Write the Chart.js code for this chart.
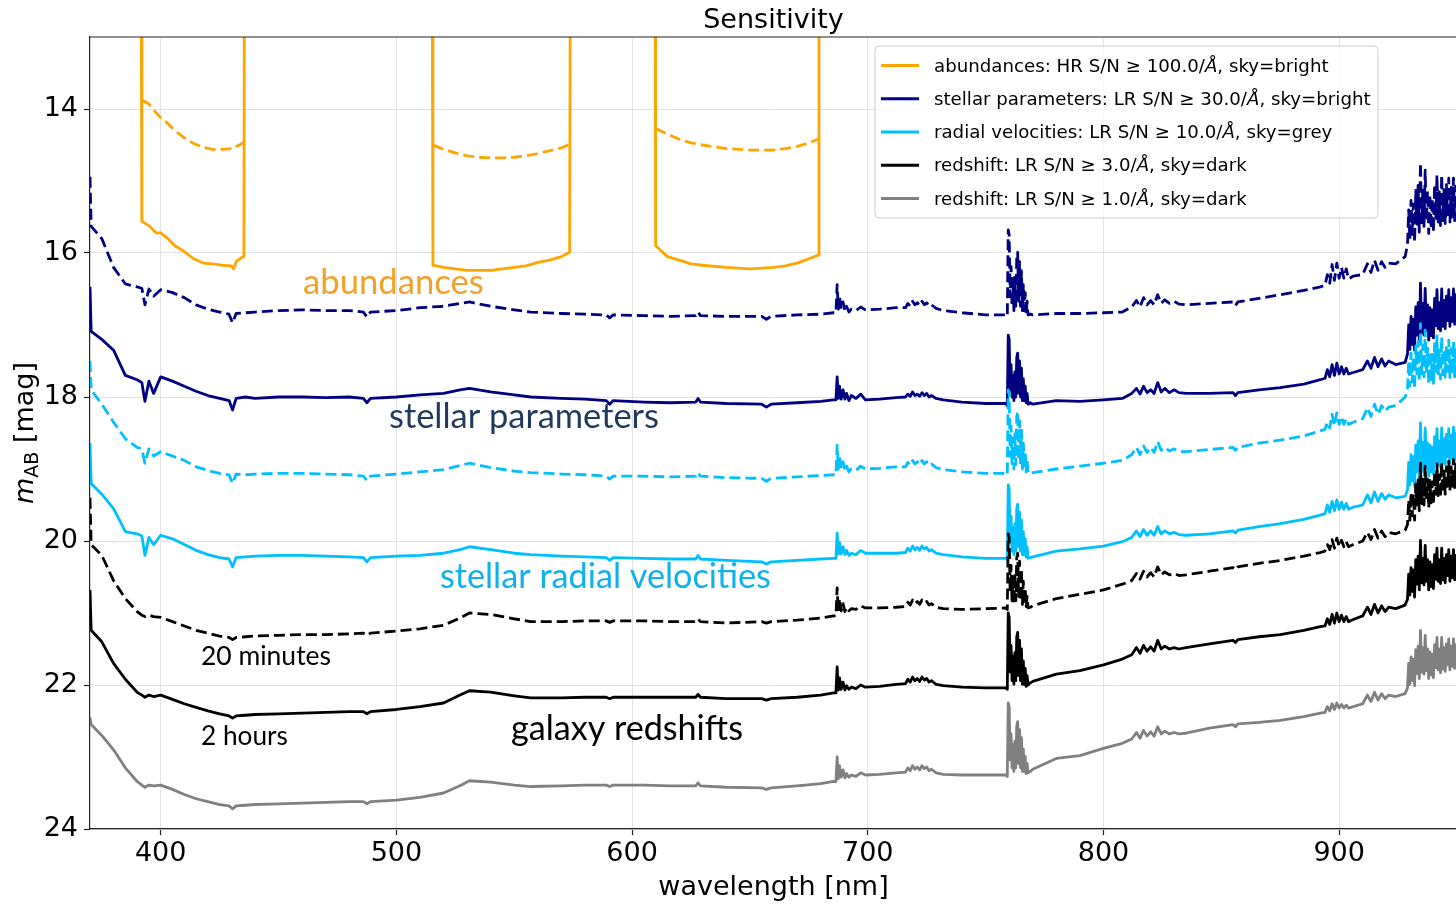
<!DOCTYPE html>
<html>
<head>
<meta charset="utf-8">
<title>Sensitivity</title>
<script src="https://cdn.jsdelivr.net/npm/chart.js@4.4.0/dist/chart.umd.min.js"></script>
<style>
  html, body { margin: 0; padding: 0; background: #fff; overflow: hidden; }
  #wrap { width: 1456px; height: 906px; overflow: hidden; }
</style>
</head>
<body>
<div id="wrap"><canvas id="sensChart" width="1460" height="906"></canvas></div>
<script>
// wavelength grid [nm] shared by the low-resolution curves
const wavelength = [
  370, 370.5, 375, 380, 385, 390, 392, 393.3, 395, 397, 400, 405, 410, 415, 420, 425, 429, 430.5, 432, 436, 440,
  450, 460, 470, 480, 486, 487.5, 489, 500, 510, 520, 527, 531, 540, 550, 557, 570, 580, 589, 590.5, 592,
  605, 616, 627, 628, 629, 640, 655, 657, 659, 670, 680, 685.5,
  686.5, 687, 687.5, 688, 688.7, 689.5, 690.3, 691, 692, 693, 695, 697, 699,
  705, 712, 716, 717, 718, 719, 720, 721, 722, 723, 724, 725, 726, 727, 729, 732, 740, 750, 758.5,
  759.2, 759.6, 760, 760.4, 760.8, 761.2, 761.6, 762, 762.4, 762.8, 763.2, 763.6, 764, 764.4, 764.8, 765.2, 765.6, 766, 766.4, 766.8,
  767.2, 767.6, 768, 769, 770,
  780, 790, 800, 808, 812, 814, 815.5, 817, 818.5, 820, 821.5, 823, 824.5, 826, 828, 830, 832, 835, 845, 855,
  856, 857, 866, 875, 885, 892,
  894, 895, 896, 897, 898, 899, 900, 901, 902, 903, 904, 906,
  910, 912, 913.5, 915, 916.5, 918, 919.5, 921, 924, 928,
  929, 929.5, 930, 930.5, 931, 931.5, 932, 932.5, 933, 933.5, 934, 934.5, 935, 935.5, 936, 936.5, 937, 937.5, 938, 938.5,
  939, 939.5, 940, 940.5, 941, 941.5, 942, 942.5, 943, 943.5, 944, 944.5, 945, 945.5, 946, 946.5, 947, 947.5, 948, 948.5,
  949, 949.5, 950
];

// stellar parameters, LR S/N 30, bright sky: 20 min (dashed) and 2 h (solid)
const spDash = [
  14.94, 15.63, 15.8, 16.2, 16.43, 16.47, 16.49, 16.72, 16.5, 16.6, 16.51, 16.55, 16.62, 16.72, 16.78, 16.82, 16.85, 16.97, 16.84, 16.83, 16.82,
  16.8, 16.79, 16.8, 16.8, 16.82, 16.89, 16.82, 16.8, 16.76, 16.74, 16.7, 16.68, 16.74, 16.79, 16.82, 16.84, 16.85, 16.86, 16.9, 16.86,
  16.87, 16.88, 16.87, 16.82, 16.87, 16.88, 16.88, 16.92, 16.88, 16.86, 16.85, 16.83,
  16.83, 16.44, 16.78, 16.6, 16.78, 16.68, 16.8, 16.74, 16.82, 16.78, 16.8, 16.75, 16.79,
  16.78, 16.76, 16.76, 16.7, 16.74, 16.67, 16.72, 16.69, 16.73, 16.67, 16.72, 16.69, 16.74, 16.72, 16.77, 16.8, 16.83, 16.86, 16.86,
  16.88, 15.68, 15.75, 16.61, 16.19, 16.74, 16.36, 16.8, 16.31, 16.74, 16.06, 15.99, 16.67, 16.12, 16.74, 16.25, 16.8, 16.44, 16.8, 16.55,
  16.84, 16.67, 16.86, 16.85, 16.86,
  16.84, 16.84, 16.83, 16.82, 16.75, 16.66, 16.75, 16.62, 16.72, 16.66, 16.72, 16.58, 16.7, 16.65, 16.7, 16.67, 16.71, 16.72, 16.7, 16.68,
  16.73, 16.68, 16.63, 16.58, 16.52, 16.47,
  16.45, 16.3, 16.42, 16.16, 16.38, 16.14, 16.35, 16.2, 16.35, 16.22, 16.36, 16.32,
  16.3, 16.15, 16.27, 16.1, 16.24, 16.12, 16.2, 16.14, 16.15, 16.05,
  15.88, 15.4, 15.81, 15.27, 15.74, 15.32, 15.85, 15.13, 15.6, 15.06, 15.71, 14.75, 15.58, 15.1, 15.63, 14.85, 15.56, 15.14, 15.73, 15.19,
  15.66, 15.24, 15.71, 15.05, 15.52, 14.92, 15.57, 15.15, 15.62, 14.92, 15.55, 15.12, 15.59, 15.05, 15.47, 14.96, 15.57, 15.09, 15.5, 14.96,
  15.55, 15.07, 15.42
];
const spSolid = [
  16.47, 17.09, 17.2, 17.35, 17.7, 17.76, 17.8, 18.06, 17.78, 17.95, 17.72, 17.78, 17.85, 17.92, 17.98, 18.02, 18.05, 18.18, 18.02, 18.0, 18.02,
  18.0, 18.0, 18.01, 18.0, 18.02, 18.08, 18.02, 18.0, 17.97, 17.95, 17.9, 17.88, 17.93, 17.97, 18.0, 18.02, 18.03, 18.05, 18.1, 18.05,
  18.07, 18.08, 18.07, 18.02, 18.07, 18.09, 18.1, 18.14, 18.1, 18.08, 18.06, 18.04,
  18.04, 17.72, 18.02, 17.85, 18.03, 17.9, 18.03, 17.95, 18.05, 17.98, 18.02, 17.96, 18.04,
  18.03, 18.01, 18.0, 17.96, 17.99, 17.93, 17.98, 17.96, 17.99, 17.94, 17.98, 17.95, 18.0, 17.98, 18.02, 18.04, 18.07, 18.09, 18.09,
  18.12, 17.14, 17.2, 17.9, 17.55, 18.0, 17.7, 18.05, 17.65, 18.0, 17.45, 17.39, 17.95, 17.5, 18.0, 17.6, 18.05, 17.75, 18.05, 17.85,
  18.08, 17.95, 18.1, 18.08, 18.1,
  18.05, 18.06, 18.04, 18.02, 17.95, 17.88, 17.96, 17.85, 17.94, 17.9, 17.95, 17.8, 17.93, 17.88, 17.94, 17.9, 17.94, 17.95, 17.95, 17.94,
  17.98, 17.94, 17.9, 17.87, 17.82, 17.76,
  17.74, 17.62, 17.72, 17.55, 17.7, 17.53, 17.68, 17.58, 17.68, 17.6, 17.68, 17.66,
  17.62, 17.5, 17.6, 17.45, 17.58, 17.47, 17.57, 17.5, 17.55, 17.52,
  17.4, 17.0, 17.34, 16.88, 17.27, 16.92, 17.35, 16.75, 17.14, 16.69, 17.22, 16.42, 17.11, 16.7, 17.14, 16.49, 17.08, 16.72, 17.21, 16.76,
  17.15, 16.79, 17.18, 16.63, 17.01, 16.51, 17.05, 16.69, 17.08, 16.5, 17.02, 16.66, 17.05, 16.6, 16.94, 16.51, 17.02, 16.62, 16.95, 16.5,
  16.99, 16.58, 16.87
];

// radial velocities, LR S/N 10, grey sky
const rvDash = [
  17.5, 17.9, 18.1, 18.35, 18.58, 18.7, 18.72, 18.92, 18.72, 18.82, 18.76, 18.82, 18.88, 18.97, 19.02, 19.06, 19.08, 19.2, 19.07, 19.08, 19.07,
  19.06, 19.06, 19.07, 19.08, 19.1, 19.16, 19.1, 19.07, 19.04, 19.01, 18.95, 18.92, 18.98, 19.03, 19.05, 19.07, 19.08, 19.1, 19.14, 19.1,
  19.1, 19.11, 19.1, 19.05, 19.1, 19.12, 19.13, 19.17, 19.13, 19.11, 19.09, 19.08,
  19.08, 18.67, 19.0, 18.82, 19.0, 18.9, 19.02, 18.96, 19.04, 19.0, 19.02, 18.96, 19.0,
  18.99, 18.97, 18.97, 18.91, 18.95, 18.88, 18.93, 18.9, 18.94, 18.88, 18.93, 18.9, 18.95, 18.93, 18.98, 19.01, 19.04, 19.06, 19.06,
  19.08, 17.9, 17.97, 18.82, 18.4, 18.94, 18.57, 19.0, 18.51, 18.94, 18.27, 18.2, 18.87, 18.33, 18.94, 18.46, 19.0, 18.64, 19.0, 18.76,
  19.04, 18.87, 19.06, 19.05, 19.05,
  19.0, 18.96, 18.92, 18.88, 18.8, 18.7, 18.8, 18.68, 18.77, 18.7, 18.77, 18.62, 18.74, 18.7, 18.75, 18.72, 18.76, 18.76, 18.73, 18.7,
  18.74, 18.7, 18.64, 18.6, 18.54, 18.47,
  18.45, 18.35, 18.43, 18.24, 18.4, 18.22, 18.38, 18.27, 18.38, 18.3, 18.38, 18.35,
  18.3, 18.15, 18.27, 18.1, 18.24, 18.12, 18.2, 18.14, 18.12, 18.0,
  17.9, 17.5, 17.85, 17.39, 17.79, 17.44, 17.89, 17.29, 17.68, 17.23, 17.78, 16.98, 17.68, 17.28, 17.72, 17.07, 17.67, 17.32, 17.82, 17.36,
  17.76, 17.41, 17.81, 17.26, 17.65, 17.15, 17.7, 17.35, 17.75, 17.17, 17.69, 17.34, 17.74, 17.29, 17.64, 17.21, 17.73, 17.33, 17.68, 17.23,
  17.72, 17.32, 17.62
];
const rvSolid = [
  18.64, 19.2, 19.35, 19.55, 19.87, 19.9, 19.93, 20.2, 19.95, 20.05, 19.92, 19.97, 20.05, 20.13, 20.19, 20.23, 20.25, 20.36, 20.23, 20.22, 20.21,
  20.2, 20.2, 20.21, 20.22, 20.23, 20.29, 20.23, 20.21, 20.2, 20.17, 20.12, 20.08, 20.12, 20.17, 20.19, 20.21, 20.22, 20.23, 20.27, 20.23,
  20.24, 20.25, 20.25, 20.2, 20.25, 20.27, 20.29, 20.32, 20.29, 20.27, 20.25, 20.24,
  20.24, 19.89, 20.18, 20.02, 20.18, 20.08, 20.19, 20.13, 20.2, 20.17, 20.19, 20.13, 20.17,
  20.17, 20.17, 20.16, 20.1, 20.14, 20.07, 20.12, 20.09, 20.13, 20.07, 20.11, 20.09, 20.14, 20.12, 20.17, 20.19, 20.22, 20.24, 20.24,
  20.26, 19.22, 19.28, 20.03, 19.66, 20.14, 19.81, 20.19, 19.76, 20.14, 19.55, 19.49, 20.08, 19.6, 20.14, 19.71, 20.19, 19.87, 20.19, 19.97,
  20.22, 20.08, 20.24, 20.23, 20.22,
  20.14, 20.11, 20.07, 20.01, 19.95, 19.86, 19.94, 19.84, 19.92, 19.86, 19.92, 19.8, 19.9, 19.86, 19.9, 19.88, 19.91, 19.92, 19.9, 19.86,
  19.89, 19.85, 19.8, 19.76, 19.7, 19.64,
  19.62, 19.5, 19.6, 19.45, 19.58, 19.43, 19.56, 19.46, 19.56, 19.48, 19.56, 19.53,
  19.5, 19.36, 19.47, 19.32, 19.45, 19.34, 19.42, 19.36, 19.4, 19.38,
  19.29, 18.91, 19.22, 18.8, 19.16, 18.83, 19.24, 18.67, 19.04, 18.61, 19.12, 18.36, 19.01, 18.63, 19.04, 18.43, 18.98, 18.64, 19.1, 18.67,
  19.04, 18.7, 19.07, 18.55, 18.91, 18.44, 18.94, 18.61, 18.97, 18.43, 18.91, 18.58, 18.94, 18.52, 18.83, 18.44, 18.91, 18.53, 18.85, 18.42,
  18.88, 18.5, 18.77
];

// redshift, LR S/N 3, dark sky
const zDash = [
  19.4, 20.05, 20.2, 20.55, 20.8, 20.98, 21.03, 21.05, 21.03, 21.05, 21.06, 21.12, 21.18, 21.24, 21.28, 21.32, 21.34, 21.37, 21.34, 21.33, 21.32,
  21.31, 21.3, 21.3, 21.29, 21.28, 21.31, 21.28, 21.25, 21.22, 21.17, 21.07, 21.0, 21.02, 21.08, 21.12, 21.12, 21.11, 21.11, 21.13, 21.11,
  21.11, 21.12, 21.12, 21.08, 21.12, 21.14, 21.12, 21.14, 21.12, 21.1, 21.07, 21.04,
  21.04, 20.65, 20.98, 20.8, 20.97, 20.87, 20.98, 20.92, 20.97, 20.94, 20.95, 20.9, 20.93,
  20.93, 20.92, 20.91, 20.85, 20.89, 20.82, 20.87, 20.84, 20.88, 20.82, 20.86, 20.84, 20.89, 20.87, 20.92, 20.94, 20.95, 20.94, 20.93,
  20.95, 19.9, 19.96, 20.71, 20.34, 20.83, 20.5, 20.88, 20.45, 20.83, 20.23, 20.17, 20.77, 20.28, 20.83, 20.39, 20.88, 20.56, 20.88, 20.66,
  20.91, 20.77, 20.93, 20.92, 20.9,
  20.8, 20.74, 20.68, 20.6, 20.55, 20.45, 20.53, 20.42, 20.5, 20.44, 20.5, 20.36, 20.47, 20.43, 20.47, 20.45, 20.48, 20.47, 20.42, 20.37,
  20.4, 20.36, 20.31, 20.27, 20.21, 20.16,
  20.14, 20.05, 20.12, 19.98, 20.1, 19.96, 20.08, 19.99, 20.08, 20.01, 20.08, 20.05,
  20.0, 19.88, 19.98, 19.84, 19.96, 19.86, 19.94, 19.88, 19.9, 19.85,
  19.77, 19.43, 19.71, 19.33, 19.65, 19.35, 19.71, 19.21, 19.52, 19.15, 19.58, 18.92, 19.48, 19.14, 19.5, 18.96, 19.44, 19.14, 19.54, 19.16,
  19.47, 19.18, 19.49, 19.04, 19.35, 18.93, 19.37, 19.08, 19.39, 18.91, 19.33, 19.03, 19.35, 18.97, 19.24, 18.89, 19.3, 18.97, 19.24, 18.87,
  19.26, 18.93, 19.16
];
const zSolid = [
  20.68, 21.24, 21.4, 21.7, 21.92, 22.1, 22.14, 22.17, 22.14, 22.16, 22.14, 22.2, 22.26, 22.31, 22.36, 22.4, 22.43, 22.46, 22.43, 22.42, 22.41,
  22.4, 22.39, 22.38, 22.37, 22.37, 22.4, 22.37, 22.34, 22.3, 22.25, 22.14, 22.08, 22.1, 22.15, 22.18, 22.18, 22.17, 22.17, 22.19, 22.17,
  22.17, 22.17, 22.17, 22.13, 22.17, 22.19, 22.19, 22.21, 22.19, 22.17, 22.14, 22.11,
  22.11, 21.75, 22.07, 21.9, 22.06, 21.96, 22.07, 22.01, 22.06, 22.03, 22.05, 22.0, 22.03,
  22.02, 21.99, 21.98, 21.92, 21.96, 21.89, 21.94, 21.91, 21.95, 21.89, 21.93, 21.91, 21.96, 21.94, 21.99, 22.01, 22.03, 22.04, 22.04,
  22.06, 21.0, 21.06, 21.82, 21.45, 21.94, 21.6, 21.99, 21.55, 21.94, 21.33, 21.27, 21.87, 21.38, 21.94, 21.5, 21.99, 21.67, 21.99, 21.77,
  22.02, 21.87, 22.0, 21.97, 21.95,
  21.85, 21.8, 21.72, 21.64, 21.58, 21.48, 21.56, 21.45, 21.53, 21.47, 21.53, 21.38, 21.5, 21.46, 21.5, 21.48, 21.5, 21.48, 21.43, 21.38,
  21.41, 21.37, 21.33, 21.3, 21.24, 21.19,
  21.18, 21.08, 21.16, 21.02, 21.14, 21.0, 21.12, 21.03, 21.12, 21.05, 21.12, 21.09,
  21.04, 20.92, 21.02, 20.88, 21.0, 20.9, 20.98, 20.92, 20.94, 20.89,
  20.81, 20.46, 20.75, 20.37, 20.7, 20.4, 20.78, 20.26, 20.6, 20.21, 20.68, 19.99, 20.58, 20.24, 20.61, 20.06, 20.56, 20.26, 20.68, 20.29,
  20.63, 20.33, 20.66, 20.19, 20.53, 20.1, 20.56, 20.26, 20.59, 20.1, 20.54, 20.24, 20.58, 20.19, 20.48, 20.12, 20.56, 20.21, 20.51, 20.12,
  20.54, 20.2, 20.45
];

// redshift, LR S/N 1, dark sky (2 h only)
const z1Solid = [
  22.45, 22.55, 22.7, 22.9, 23.15, 23.34, 23.39, 23.42, 23.39, 23.4, 23.39, 23.45, 23.52, 23.58, 23.62, 23.66, 23.68, 23.72, 23.68, 23.67, 23.66,
  23.65, 23.64, 23.63, 23.62, 23.62, 23.65, 23.62, 23.6, 23.56, 23.5, 23.4, 23.33, 23.35, 23.39, 23.41, 23.4, 23.39, 23.39, 23.41, 23.39,
  23.39, 23.4, 23.4, 23.36, 23.4, 23.42, 23.43, 23.45, 23.43, 23.4, 23.37, 23.34,
  23.34, 23.0, 23.3, 23.12, 23.28, 23.18, 23.29, 23.23, 23.28, 23.25, 23.27, 23.22, 23.25,
  23.24, 23.22, 23.21, 23.15, 23.19, 23.12, 23.17, 23.14, 23.18, 23.12, 23.16, 23.14, 23.19, 23.17, 23.22, 23.24, 23.25, 23.25, 23.25,
  23.27, 22.25, 22.31, 23.04, 22.68, 23.15, 22.83, 23.2, 22.78, 23.15, 22.57, 22.51, 23.09, 22.62, 23.15, 22.73, 23.2, 22.89, 23.2, 22.99,
  23.23, 23.09, 23.22, 23.2, 23.17,
  23.02, 22.98, 22.88, 22.81, 22.75, 22.66, 22.74, 22.63, 22.71, 22.65, 22.71, 22.58, 22.68, 22.64, 22.68, 22.66, 22.68, 22.67, 22.6, 22.55,
  22.58, 22.54, 22.52, 22.49, 22.44, 22.39,
  22.38, 22.3, 22.36, 22.26, 22.34, 22.25, 22.32, 22.27, 22.32, 22.28, 22.32, 22.3,
  22.26, 22.14, 22.23, 22.1, 22.21, 22.12, 22.19, 22.14, 22.16, 22.12,
  22.04, 21.7, 21.99, 21.61, 21.94, 21.64, 22.01, 21.51, 21.84, 21.46, 21.91, 21.24, 21.82, 21.48, 21.85, 21.31, 21.8, 21.5, 21.91, 21.54,
  21.86, 21.57, 21.9, 21.44, 21.76, 21.34, 21.79, 21.5, 21.83, 21.34, 21.78, 21.48, 21.81, 21.43, 21.72, 21.36, 21.79, 21.46, 21.74, 21.36,
  21.77, 21.44, 21.68
];

// abundances, HR S/N 100, bright sky: three HR windows (12 = off the top of the axis)
const abWave = [
  391.7, 392, 395, 398, 400, 403, 406, 410, 414, 418, 422, 426, 430, 431, 432, 434, 435.3, 435.5,
  470,
  515.2, 515.5, 520, 525, 530, 535, 540, 545, 550, 555, 560, 565, 570, 573.5, 573.8,
  590,
  609.8, 610, 615, 620, 625, 630, 640, 650, 660, 665, 670, 675, 679, 679.3
];
const abSolid = [
  12, 15.56, 15.62, 15.72, 15.72, 15.8, 15.9, 15.98, 16.08, 16.14, 16.15, 16.17, 16.18, 16.22, 16.12, 16.07, 16.05, 12,
  null,
  12, 16.17, 16.2, 16.22, 16.24, 16.24, 16.24, 16.22, 16.2, 16.18, 16.13, 16.1, 16.05, 15.99, 12,
  null,
  12, 15.9, 16.05, 16.1, 16.15, 16.17, 16.2, 16.22, 16.2, 16.18, 16.14, 16.08, 16.03, 12
];
const abDash = [
  null, 13.875, 13.93, 14.05, 14.12, 14.2, 14.3, 14.4, 14.48, 14.53, 14.56, 14.56, 14.55, 14.55, 14.52, 14.49, 14.46, null,
  null,
  null, 14.5, 14.56, 14.61, 14.65, 14.67, 14.68, 14.68, 14.67, 14.65, 14.62, 14.58, 14.54, 14.49, null,
  null,
  null, 14.27, 14.35, 14.42, 14.47, 14.5, 14.55, 14.57, 14.57, 14.55, 14.52, 14.47, 14.42, null
];

const xTicks = [400, 500, 600, 700, 800, 900];
const yTicks = [14, 16, 18, 20, 22, 24];

const legendLabels = [
  ["abundances: HR S/N \u2265 100.0/", "\u00c5", ", sky=bright"],
  ["stellar parameters: LR S/N \u2265 30.0/", "\u00c5", ", sky=bright"],
  ["radial velocities: LR S/N \u2265 10.0/", "\u00c5", ", sky=grey"],
  ["redshift: LR S/N \u2265 3.0/", "\u00c5", ", sky=dark"],
  ["redshift: LR S/N \u2265 1.0/", "\u00c5", ", sky=dark"]
];

const ORANGE = "#ffa500", NAVY = "#000080", SKY = "#00bfff", BLACK = "#000000", GREY = "#808080";
const legendColors = [ORANGE, NAVY, SKY, BLACK, GREY];
const DASH = [11, 5];

function toPoints(xs, ys) {
    return xs.map((x, i) => ({ x: x, y: ys[i] }));
}

// plotted in the same order as the original; later ones end up on top
const curves = [
    { xs: abWave, ys: abSolid, color: ORANGE, dash: [] },
    { xs: abWave, ys: abDash, color: ORANGE, dash: DASH },
    { xs: wavelength, ys: spSolid, color: NAVY, dash: [] },
    { xs: wavelength, ys: spDash, color: NAVY, dash: DASH },
    { xs: wavelength, ys: rvSolid, color: SKY, dash: [] },
    { xs: wavelength, ys: rvDash, color: SKY, dash: DASH },
    { xs: wavelength, ys: zSolid, color: BLACK, dash: [] },
    { xs: wavelength, ys: zDash, color: BLACK, dash: DASH },
    { xs: wavelength, ys: z1Solid, color: GREY, dash: [] }
];

const datasets = curves.map((c, i) => ({
    data: toPoints(c.xs, c.ys),
    borderColor: c.color,
    borderDash: c.dash,
    borderWidth: 2.8,
    pointRadius: 0,
    tension: 0,
    spanGaps: false,
    borderJoinStyle: "round",
    order: curves.length - i
}));

// free text placed on the plot: [text, left x, baseline y, width, colour]
const notes = [
    ["abundances", 303, 294, 181, "#f0a22a"],
    ["stellar parameters", 389, 428, 270, "#1f3a5c"],
    ["stellar radial velocities", 440, 588, 331, "#0fb0ee"],
    ["20 minutes", 201, 665, 130, "#000"],
    ["2 hours", 201, 745, 87, "#000"],
    ["galaxy redshifts", 511, 740, 232, "#000"]
];

function drawFitted(ctx, text, x, y, width, color) {
    ctx.font = '100px Lato';
    const size = 100 * width / ctx.measureText(text).width;
    ctx.font = size.toFixed(2) + 'px Lato';
    ctx.fillStyle = color;
    ctx.textAlign = 'left';
    ctx.textBaseline = 'alphabetic';
    ctx.fillText(text, x, y);
}

const decorations = {
    id: 'decorations',
    afterDraw(chart) {
        const ctx = chart.ctx;
        const area = chart.chartArea;
        ctx.save();

        // top spine
        ctx.strokeStyle = '#222';
        ctx.lineWidth = 1.2;
        ctx.beginPath();
        ctx.moveTo(area.left, area.top);
        ctx.lineTo(area.right, area.top);
        ctx.stroke();

        // title
        ctx.fillStyle = '#000';
        ctx.font = '27px "DejaVu Sans"';
        ctx.textAlign = 'center';
        ctx.textBaseline = 'alphabetic';
        ctx.fillText('Sensitivity', (area.left + area.right) / 2, 28);

        // y label: m_AB [mag]
        ctx.save();
        ctx.translate(33, 433);
        ctx.rotate(-Math.PI / 2);
        ctx.textAlign = 'left';
        ctx.font = 'italic 27px "DejaVu Sans"';
        const wm = ctx.measureText('m').width;
        ctx.font = '19px "DejaVu Sans"';
        const wab = ctx.measureText('AB').width;
        ctx.font = '27px "DejaVu Sans"';
        const wrest = ctx.measureText(' [mag]').width;
        let u = -(wm + wab + wrest) / 2;
        ctx.font = 'italic 27px "DejaVu Sans"';
        ctx.fillText('m', u, 0);
        u += wm;
        ctx.font = '19px "DejaVu Sans"';
        ctx.fillText('AB', u, 5);
        u += wab;
        ctx.font = '27px "DejaVu Sans"';
        ctx.fillText(' [mag]', u, 0);
        ctx.restore();

        // annotations
        notes.forEach(n => drawFitted(ctx, n[0], n[1], n[2], n[3], n[4]));

        // legend
        const lx = 875, ly = 46, lw = 503, lh = 172;
        ctx.beginPath();
        ctx.roundRect(lx, ly, lw, lh, 4);
        ctx.fillStyle = 'rgba(255,255,255,0.8)';
        ctx.fill();
        ctx.strokeStyle = '#cccccc';
        ctx.lineWidth = 1;
        ctx.stroke();
        legendLabels.forEach((parts, i) => {
            const y = 65.5 + i * 33.25;
            ctx.strokeStyle = legendColors[i];
            ctx.lineWidth = 2.8;
            ctx.setLineDash([]);
            ctx.beginPath();
            ctx.moveTo(881, y);
            ctx.lineTo(919, y);
            ctx.stroke();
            ctx.fillStyle = '#000';
            ctx.textAlign = 'left';
            ctx.textBaseline = 'middle';
            let x = 934;
            parts.forEach((p, k) => {
                ctx.font = (k === 1 ? 'italic ' : '') + '18.2px "DejaVu Sans"';
                ctx.fillText(p, x, y + 1.5);
                x += ctx.measureText(p).width;
            });
        });

        ctx.restore();
    }
};

const tickFont = { family: 'DejaVu Sans', size: 27 };

new Chart(document.getElementById('sensChart'), {
    type: 'line',
    data: { datasets: datasets },
    options: {
        responsive: false,
        animation: false,
        layout: { padding: { top: 37, right: 3, left: 0, bottom: 0 } },
        plugins: { legend: { display: false }, tooltip: { enabled: false } },
        scales: {
            x: {
                type: 'linear',
                min: 370,
                max: 950,
                afterBuildTicks: s => { s.ticks = xTicks.map(v => ({ value: v })); },
                afterFit: s => { s.height = 77; },
                ticks: { font: tickFont, color: '#000', padding: 3, maxRotation: 0, autoSkip: false },
                grid: { color: '#e3e3e3', lineWidth: 1, tickLength: 6, tickColor: '#222', tickWidth: 1.2 },
                border: { display: true, color: '#222', width: 1.2 },
                title: { display: true, text: 'wavelength [nm]', font: tickFont, color: '#000', padding: { top: 0, bottom: 2 } }
            },
            y: {
                type: 'linear',
                min: 13,
                max: 24,
                reverse: true,
                afterBuildTicks: s => { s.ticks = yTicks.map(v => ({ value: v })); },
                afterFit: s => { s.width = 90; },
                ticks: { font: tickFont, color: '#000', padding: 6, autoSkip: false },
                grid: { color: '#e3e3e3', lineWidth: 1, tickLength: 6, tickColor: '#222', tickWidth: 1.2 },
                border: { display: true, color: '#222', width: 1.2 }
            }
        }
    },
    plugins: [decorations]
});
</script>
</body>
</html>
